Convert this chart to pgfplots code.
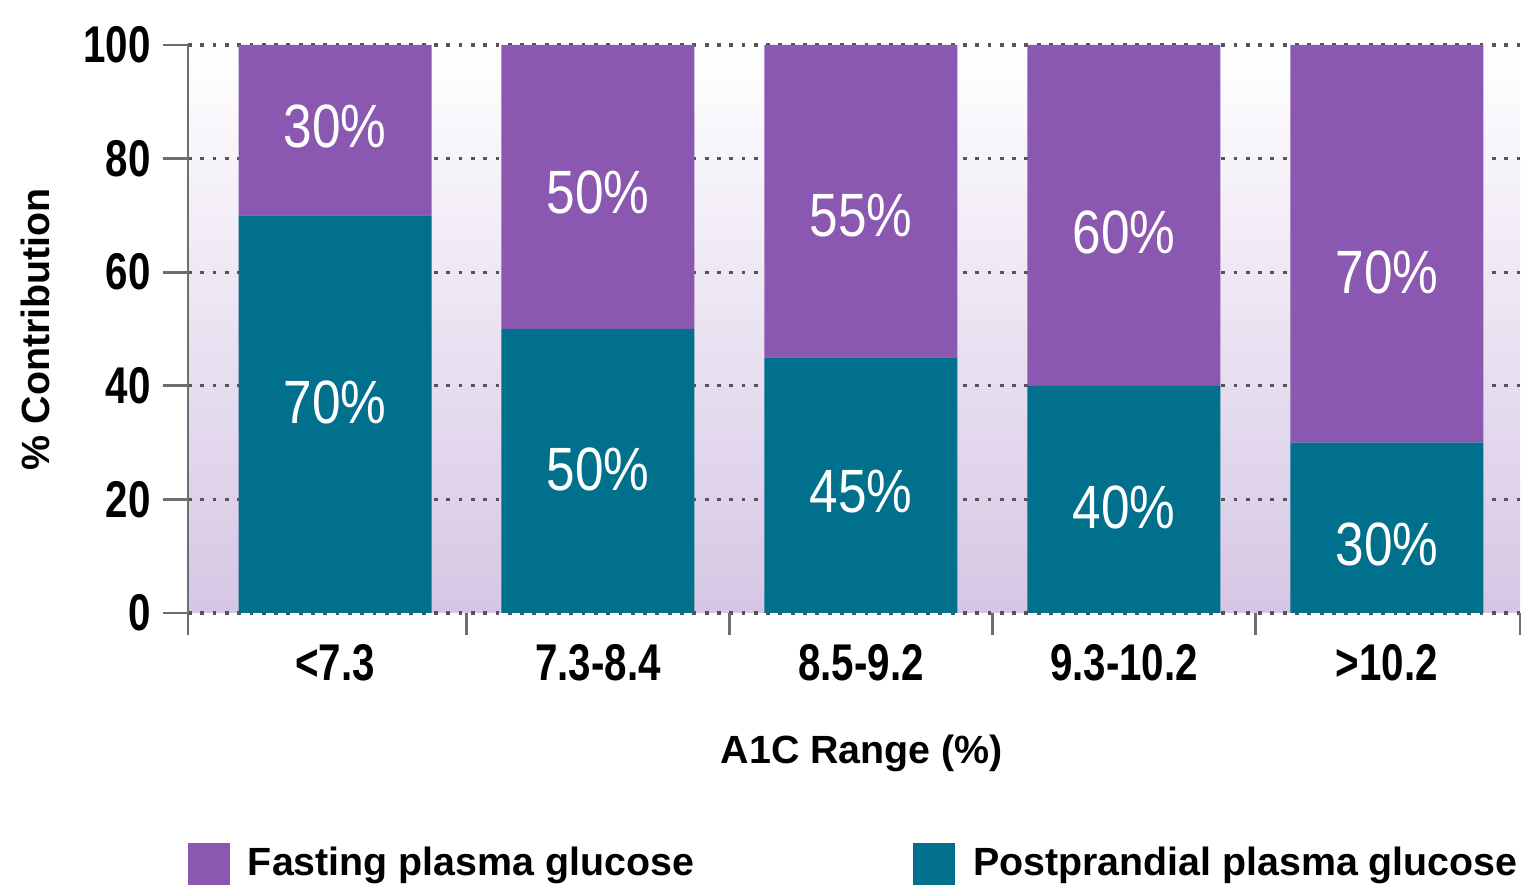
\documentclass[border=0pt]{standalone}
\usepackage{fontspec}
\setmainfont{Liberation Sans}
\newfontfamily\condfont{Liberation Sans}[FakeStretch=0.78]
\newfontfamily\labfont{Liberation Sans}[FakeStretch=0.84]
\usepackage{pgfplots}
\pgfplotsset{compat=1.18}
\definecolor{fpg}{HTML}{8A58B0}
\definecolor{ppg}{HTML}{00708C}
\definecolor{bgbot}{HTML}{D6C6E4}
\definecolor{bgmid}{HTML}{EFE9F4}
\definecolor{axgray}{HTML}{6E6E6E}
\definecolor{gridgray}{HTML}{555555}
\begin{document}
\begin{tikzpicture}
\path[use as bounding box] (-18.8mm,-27.4mm) rectangle (133.6mm,61.3mm);
\pgfplotsset{
  common/.style={
    scale only axis, width=133.2mm, height=56.8mm,
    at={(0,0)}, anchor=south west,
    xmin=-0.559, xmax=4.506, ymin=0, ymax=100,
  },
  sqlegend/.style={
    legend image code/.code={\fill[##1] (0mm,-2.1mm) rectangle (4.2mm,2.1mm);},
    legend style={draw=none, fill=none, inner sep=0pt, outer sep=0pt, anchor=west,
      font=\bfseries\fontsize{11.2}{13}\selectfont,
      nodes={inner sep=0pt},
      /tikz/every odd column/.append style={column sep=1.8mm}},
  },
}
\begin{axis}[common,
  ybar stacked, bar width=19.3mm,
  sqlegend,
  axis lines*=left,
  x axis line style={draw=none},
  y axis line style={axgray, line width=0.8pt},
  tick align=outside,
  major tick length=2.5mm, minor tick length=2.2mm,
  xtick={0,1,2,3,4},
  xticklabels={<7.3,7.3-8.4,8.5-9.2,9.3-10.2,>10.2},
  major x tick style={draw=none},
  minor xtick={-0.559,0.5,1.5,2.5,3.5,4.506},
  minor x tick style={axgray, line width=0.8pt},
  ytick={0,20,40,60,80,100},
  ytick style={axgray, line width=0.8pt},
  ymajorgrids,
  major grid style={gridgray, line width=0.9pt, dash pattern=on 1.1pt off 2.4pt},
  /pgf/number format/assume math mode=true,
  ticklabel style={font=\condfont\bfseries\fontsize{14.7}{16}\selectfont},
  xticklabel style={yshift=0.6mm},
  xlabel={A1C Range (\%)}, ylabel={\% Contribution},
  every axis x label/.style={at={(axis description cs:0.506,-0.2465)}, anchor=center,
    font=\bfseries\fontsize{11.2}{13}\selectfont},
  every axis y label/.style={at={(axis description cs:-0.1149,0.5)}, rotate=90, anchor=center,
    font=\bfseries\fontsize{11.2}{13}\selectfont},
  axis background/.style={shade, top color=white, middle color=bgmid, bottom color=bgbot},
  legend entries={Postprandial plasma glucose},
  legend style={at={(0.5443,-0.4419)}},
]
\addplot[fill=ppg, draw=none] coordinates {(0,70) (1,50) (2,45) (3,40) (4,30)};
\addplot[fill=fpg, draw=none] coordinates {(0,30) (1,50) (2,55) (3,60) (4,70)};
\end{axis}
\begin{axis}[common, sqlegend, hide axis,
  legend style={at={(0,-0.4419)}},
  nodes near coords, point meta=explicit symbolic,
  nodes near coords style={anchor=center, text=white, font=\labfont\fontsize{17.4}{19}\selectfont},
]
\addlegendimage{fill=fpg, draw=none}
\addlegendentry{Fasting plasma glucose}
\addplot[draw=none, mark=none, forget plot] coordinates {
(0,85.6) [30\%] (1,74) [50\%] (2,70) [55\%] (3,67) [60\%] (4,60) [70\%]
(0,37) [70\%] (1,25.2) [50\%] (2,21.3) [45\%] (3,18.5) [40\%] (4,12) [30\%]
};
\end{axis}
\end{tikzpicture}
\end{document}
